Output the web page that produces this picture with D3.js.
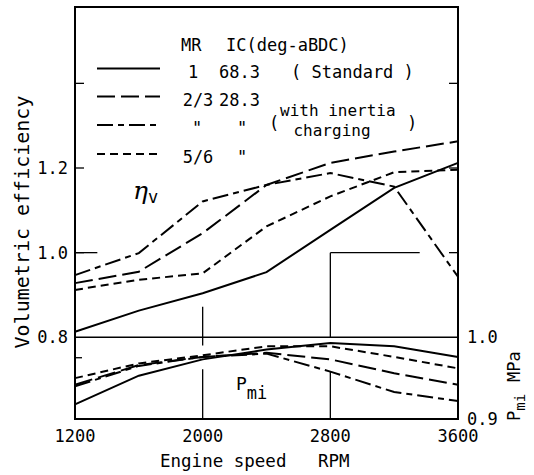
<!DOCTYPE html>
<html><head><meta charset="utf-8">
<script src="https://cdn.jsdelivr.net/npm/d3@7"></script>
<style>
body{margin:0;background:#fff;}
text{font-family:"DejaVu Sans Mono",monospace;fill:#000;}
</style></head>
<body>
<svg id="c" width="534" height="475"></svg>
<script>
// ---- data ----
const rpm = [1200,1600,2000,2400,2800,3200,3600];
const etaStandard = [0.813,0.863,0.904,0.954,1.054,1.153,1.212];
const etaMR23 = [0.928,0.955,1.046,1.160,1.212,1.239,1.263];
const etaMR23Inertia = [0.947,0.999,1.121,1.160,1.188,1.156,0.943];
const etaMR56 = [0.912,0.936,0.951,1.062,1.133,1.190,1.196];
const pStandard = [0.918,0.953,0.973,0.985,0.993,0.989,0.976];
const pMR23 = [0.942,0.966,0.976,0.981,0.973,0.956,0.942];
const pMR23Inertia = [0.940,0.965,0.976,0.980,0.958,0.933,0.922];
const pMR56 = [0.950,0.968,0.978,0.989,0.989,0.976,0.962];
const xTicks = [1200,2000,2800,3600];
const etaTicks = [0.8,1.0,1.2];
const etaMinor = [1.4];
const pTicks = [0.9,1.0];
const legendRows = [
  {mr:"1", ic:"68.3", note:"( Standard )"},
  {mr:"2/3", ic:"28.3", note:""},
  {mr:"\u3003", ic:"\u3003", note:""},
  {mr:"5/6", ic:"\u3003", note:""}
];

const svg = d3.select("#c");
const L=75,R=458,T=7,B=419;
const x = d3.scaleLinear().domain([1200,3600]).range([L,R]);
const yE = d3.scaleLinear().domain([0.8,1.2]).range([337.3,168]);
const yP = d3.scaleLinear().domain([0.9,1.0]).range([B,337.3]);

const styles = ["none","18,6","16,5,6,5","8,5"];
const etaSeries=[etaStandard,etaMR23,etaMR23Inertia,etaMR56];
const pSeries=[pStandard,pMR23,pMR23Inertia,pMR56];

// frame
svg.append("rect").attr("x",L).attr("y",T).attr("width",R-L).attr("height",B-T)
  .attr("fill","none").attr("stroke","#000").attr("stroke-width",2);
// divider
svg.append("line").attr("x1",L).attr("x2",R).attr("y1",yE(0.8)).attr("y2",yE(0.8)).attr("stroke","#000").attr("stroke-width",1.6);

// ticks (inward) left & right
etaTicks.concat(etaMinor).forEach(v=>{
  if(v===0.8) return;
  svg.append("line").attr("x1",L).attr("x2",L+9).attr("y1",yE(v)).attr("y2",yE(v)).attr("stroke","#000").attr("stroke-width",1.3);
  svg.append("line").attr("x1",R-9).attr("x2",R).attr("y1",yE(v)).attr("y2",yE(v)).attr("stroke","#000").attr("stroke-width",1.3);
});
svg.append("line").attr("x1",L).attr("x2",L+7).attr("y1",yP(0.975)).attr("y2",yP(0.975)).attr("stroke","#000").attr("stroke-width",1.3);

// grid remnants
const g = svg.append("g").attr("stroke","#000").attr("stroke-width",1.3);
g.append("line").attr("x1",L).attr("x2",x(1340)).attr("y1",yE(1.0)).attr("y2",yE(1.0));
g.append("line").attr("x1",x(2800)).attr("x2",x(3360)).attr("y1",yE(1.0)).attr("y2",yE(1.0));
g.append("line").attr("x1",x(2800)).attr("x2",x(2800)).attr("y1",yE(1.0)).attr("y2",yE(0.8));
g.append("line").attr("x1",x(2800)).attr("x2",x(2800)).attr("y1",yP(0.958)).attr("y2",B);
g.append("line").attr("x1",x(2000)).attr("x2",x(2000)).attr("y1",yE(0.872)).attr("y2",yP(0.99));
g.append("line").attr("x1",x(2000)).attr("x2",x(2000)).attr("y1",yP(0.961)).attr("y2",B);

// curves
const lineE = d3.line().x((d,i)=>x(rpm[i])).y(d=>yE(d));
const lineP = d3.line().x((d,i)=>x(rpm[i])).y(d=>yP(d));
etaSeries.forEach((s,k)=>{
  svg.append("path").attr("d",lineE(s)).attr("fill","none").attr("stroke","#000")
   .attr("stroke-width",2).attr("stroke-dasharray",styles[k]);
});
pSeries.forEach((s,k)=>{
  svg.append("path").attr("d",lineP(s)).attr("fill","none").attr("stroke","#000")
   .attr("stroke-width",2).attr("stroke-dasharray",styles[k]);
});

// axis labels
const fs=17;
etaTicks.forEach(v=>{
  svg.append("text").attr("x",L-7).attr("y",yE(v)+6).attr("text-anchor","end").attr("font-size",fs).text(v.toFixed(1));
});
pTicks.forEach(v=>{
  svg.append("text").attr("x",R+9).attr("y",yP(v)+6).attr("text-anchor","start").attr("font-size",fs).text(v.toFixed(1));
});
xTicks.forEach(v=>{
  svg.append("text").attr("x",x(v)).attr("y",442).attr("text-anchor","middle").attr("font-size",fs).text(v);
});
svg.append("text").attr("x",160).attr("y",467).attr("font-size",17.5).attr("xml:space","preserve").text("Engine speed   RPM");
svg.append("text").attr("transform","translate(29,222) rotate(-90)").attr("text-anchor","middle").attr("font-size",20).text("Volumetric efficiency");

// right rotated label  P_mi  MPa
const rl = svg.append("text").attr("transform","translate(520,421) rotate(-90)").attr("font-size",17);
rl.append("tspan").text("P");
rl.append("tspan").attr("dy",5).attr("font-size",14).text("mi");
rl.append("tspan").attr("dy",-5).attr("dx",12).text("MPa");

// in-plot labels
const et = svg.append("text").attr("x",133).attr("y",199);
et.append("tspan").attr("font-family","DejaVu Serif").attr("font-style","italic").attr("font-size",25).text("\u03b7");
et.append("tspan").attr("dy",4).attr("font-size",17).text("v");
const pm = svg.append("text").attr("x",236).attr("y",390).attr("font-size",18);
pm.append("tspan").text("P");
pm.append("tspan").attr("dy",9).attr("font-size",17).text("mi");

// legend
svg.append("text").attr("x",181).attr("y",51).attr("font-size",fs).text("MR");
svg.append("text").attr("x",226).attr("y",51).attr("font-size",fs).text("IC(deg-aBDC)");
const rowY=[68.5,96.5,125,154];
legendRows.forEach((r,k)=>{
  svg.append("line").attr("x1",97).attr("x2",160).attr("y1",rowY[k]).attr("y2",rowY[k])
    .attr("stroke","#000").attr("stroke-width",2).attr("stroke-dasharray",styles[k]);
  const ditto = r.mr==="\u3003";
  svg.append("text").attr("x",ditto?197:(r.mr.length===1?193:198)).attr("y",rowY[k]+9)
    .attr("text-anchor","middle").attr("font-size",fs).text(ditto?'"':r.mr).attr("font-style",ditto?"italic":null);
  const d2 = r.ic==="\u3003";
  svg.append("text").attr("x",d2?242:219).attr("y",rowY[k]+9).attr("text-anchor",d2?"middle":"start")
    .attr("font-size",fs).attr("font-style",d2?"italic":null).text(d2?'"':r.ic);
  if(r.note) svg.append("text").attr("x",291).attr("y",rowY[k]+9).attr("font-size",fs).attr("xml:space","preserve").text(r.note);
});
svg.append("text").attr("x",269).attr("y",129).attr("font-size",fs).text("(");
svg.append("text").attr("x",280).attr("y",116).attr("font-size",16).text("with inertia");
svg.append("text").attr("x",407).attr("y",129).attr("font-size",fs).text(")");
svg.append("text").attr("x",332).attr("y",136).attr("text-anchor","middle").attr("font-size",16).text("charging");
</script>
</body></html>
